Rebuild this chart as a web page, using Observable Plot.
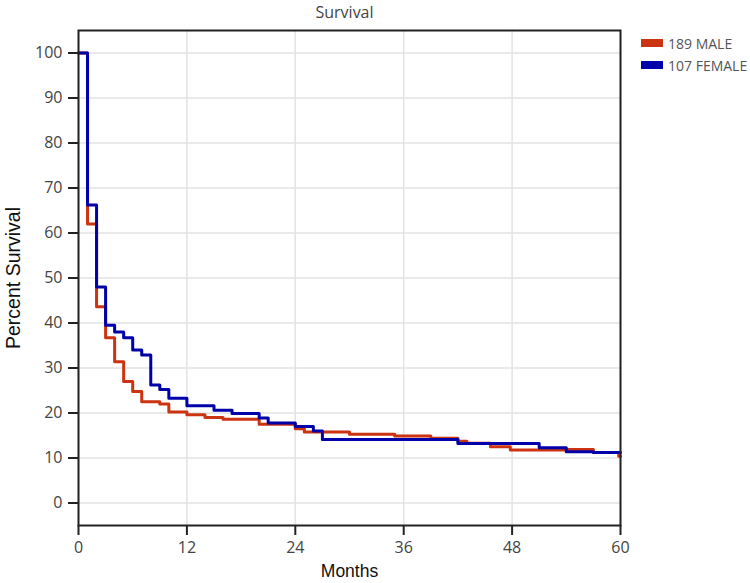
<!DOCTYPE html>
<html><head><meta charset="utf-8">
<script src="https://cdn.jsdelivr.net/npm/d3@7"></script>
<script src="https://cdn.jsdelivr.net/npm/@observablehq/plot@0.6"></script>
<style>
body{margin:0;background:#fff;}
#wrap{position:relative;width:750px;height:583px;}
.legend{position:absolute;left:641px;top:32px;font-family:"Open Sans",sans-serif;font-size:14px;color:#555;}
.legend div{display:flex;align-items:center;height:22px;white-space:nowrap;}
.legend span.sw{display:inline-block;width:22px;height:8px;margin-right:5px;}
g[aria-label="x-axis label"] text{font-family:"Liberation Sans",Arial,sans-serif;font-size:17.5px;fill:#111;}
g[aria-label="y-axis label"] text{font-family:"Liberation Sans",Arial,sans-serif;font-size:19.5px;fill:#111;}
</style></head><body><div id="wrap"></div>
<script>
const seriesNames = ["189 MALE", "107 FEMALE"];
const seriesColors = ["#cc3311", "#0000aa"];
const maleMonths   = [0, 1, 2, 3, 4, 5, 6, 7, 9, 10, 12, 14, 16, 20, 24, 25, 30, 35, 39, 42, 43, 45.6, 47.8, 54, 57, 59.8, 60];
const maleSurvival = [100, 62, 43.6, 36.7, 31.4, 27, 24.8, 22.5, 22, 20.2, 19.6, 19.0, 18.6, 17.5, 16.5, 15.8, 15.3, 14.9, 14.4, 13.7, 13.3, 12.5, 11.8, 11.9, 11.2, 10.4, 10.4];
const femaleMonths   = [0, 1, 2, 3, 4, 5, 6, 7, 8, 9, 10, 12, 15, 17, 20, 21, 24, 26, 27, 42, 51, 54, 57, 60];
const femaleSurvival = [100, 66.2, 48, 39.5, 38, 36.7, 34, 32.9, 26.2, 25.2, 23.3, 21.6, 20.6, 19.9, 18.9, 17.8, 17, 16, 14.1, 13.2, 12.3, 11.4, 11.2, 11.2];
const xTicks = [0, 12, 24, 36, 48, 60];
const yTicks = [0, 10, 20, 30, 40, 50, 60, 70, 80, 90, 100];
const title = "Survival";

const rows = [
  ...maleMonths.map((m, i) => ({series: seriesNames[0], month: m, value: maleSurvival[i]})),
  ...femaleMonths.map((m, i) => ({series: seriesNames[1], month: m, value: femaleSurvival[i]}))
];

const plot = Plot.plot({
  width: 750, height: 583,
  marginLeft: 78, marginRight: 130, marginTop: 30, marginBottom: 58,
  style: {fontFamily: "'Open Sans', sans-serif", fontSize: "16px", color: "#444", background: "#fff", overflow: "visible"},
  x: {domain: [0, 60], ticks: xTicks},
  y: {domain: [-5, 105], ticks: yTicks},
  color: {domain: seriesNames, range: seriesColors},
  marks: [
    Plot.gridX(xTicks, {stroke: "#e3e3e3", strokeOpacity: 1, strokeWidth: 1.5}),
    Plot.gridY(yTicks, {stroke: "#e3e3e3", strokeOpacity: 1, strokeWidth: 1.5}),
    Plot.line(rows, {x: "month", y: "value", z: "series", stroke: "series", curve: "step-after", strokeWidth: 3}),
    Plot.frame({stroke: "#222", strokeWidth: 2}),
    Plot.axisX(xTicks, {tickSize: 10, tickPadding: 6, stroke: "#222", fill: "#444", strokeWidth: 2,
      label: "Months", labelAnchor: "center", labelArrow: "none", labelOffset: 51}),
    Plot.axisY(yTicks, {tickSize: 10, tickPadding: 6, stroke: "#222", fill: "#444", strokeWidth: 2,
      label: "Percent Survival", labelAnchor: "center", labelArrow: "none", labelOffset: 72}),
    Plot.text([title], {frameAnchor: "top", lineAnchor: "middle", dx: -5, dy: -18, fontSize: 16, fontFamily: "'Open Sans', sans-serif", fill: "#444"})
  ]
});

const wrap = document.getElementById("wrap");
wrap.appendChild(plot);
const legend = document.createElement("div");
legend.className = "legend";
seriesNames.forEach((name, i) => {
  const row = document.createElement("div");
  const sw = document.createElement("span");
  sw.className = "sw";
  sw.style.background = seriesColors[i];
  row.appendChild(sw);
  row.appendChild(document.createTextNode(name));
  legend.appendChild(row);
});
wrap.appendChild(legend);
</script>
</body></html>
